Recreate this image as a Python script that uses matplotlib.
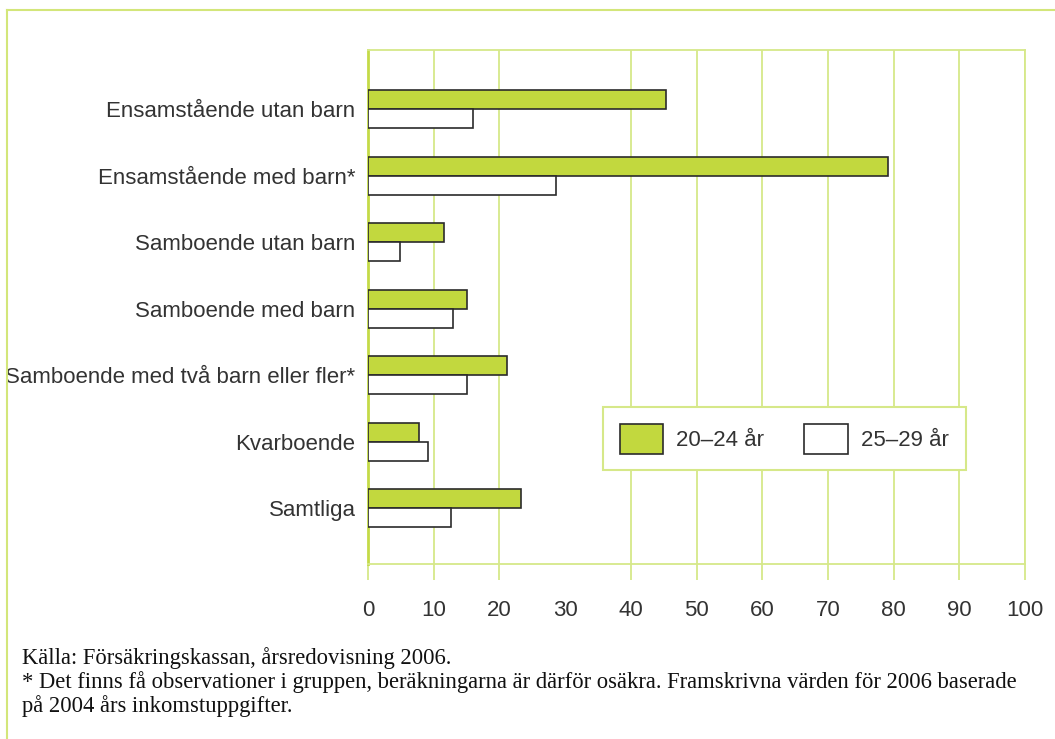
import matplotlib
matplotlib.use('Agg')
import matplotlib.pyplot as plt
from matplotlib.patches import Patch
from matplotlib.lines import Line2D
import numpy as np

# ---- data ----
categories = [
    'Ensamstående utan barn',
    'Ensamstående med barn*',
    'Samboende utan barn',
    'Samboende med barn',
    'Samboende med två barn eller fler*',
    'Kvarboende',
    'Samtliga',
]
values_20_24 = [45.3, 79.1, 11.5, 15.1, 21.2, 7.7, 23.3]
values_25_29 = [16.0, 28.6, 4.9, 13.0, 15.1, 9.1, 12.7]
series_labels = ['20–24 år', '25–29 år']
xticks = [0, 10, 20, 30, 40, 50, 60, 70, 80, 90, 100]
footer_lines = [
    'Källa: Försäkringskassan, årsredovisning 2006.',
    '* Det finns få observationer i gruppen, beräkningarna är därför osäkra. Framskrivna värden för 2006 baserade',
    'på 2004 års inkomstuppgifter.',
]

# ---- style ----
GREEN = '#c2d83e'
EDGE = '#2b2b2b'
GRID = '#d6e889'
SPINE_L = '#c4da48'
BORDER = '#d3e67a'
TEXT = '#333333'
SANS = ['Liberation Sans', 'DejaVu Sans']
SERIF = ['Liberation Serif', 'DejaVu Serif']
FS = 16

plt.rcParams['font.family'] = SANS

W, H = 1055, 739
fig = plt.figure(figsize=(W / 100, H / 100), dpi=100)
fig.patch.set_facecolor('white')

ax = fig.add_axes([368 / W, 1 - 564 / H, (1025 - 368) / W, (564 - 50) / H])

y = np.arange(len(categories))
h = 0.286
ax.barh(y - h / 2, values_20_24, height=h, color=GREEN, edgecolor=EDGE,
        linewidth=1.2, zorder=3)
ax.barh(y + h / 2, values_25_29, height=h, color='white', edgecolor=EDGE,
        linewidth=1.2, zorder=3)

ax.set_xlim(0, 100)
ax.set_ylim(6.835, -0.887)
ax.set_yticks(y)
ax.set_yticklabels(categories, fontsize=FS, color=TEXT)
ax.tick_params(axis='y', length=0, pad=9)

ax.set_xticks(xticks)
ax.set_xticklabels([str(t) for t in xticks])
ax.tick_params(axis='x', length=11.5, width=1.3, color=GRID, pad=14.5,
               labelsize=FS, labelcolor=TEXT, direction='out')
ax.grid(axis='x', color=GRID, linewidth=1.3, zorder=0)
ax.set_axisbelow(True)

# reference has no gridline / tick mark at 30
t30 = ax.xaxis.get_major_ticks()[xticks.index(30)]
t30.gridline.set_visible(False)
t30.tick1line.set_visible(False)

for s in ['top', 'right', 'bottom']:
    ax.spines[s].set_color(GRID)
    ax.spines[s].set_linewidth(1.3)
ax.spines['left'].set_color(SPINE_L)
ax.spines['left'].set_linewidth(2.0)

# legend
handles = [Patch(facecolor=GREEN, edgecolor=EDGE, linewidth=1.2),
           Patch(facecolor='white', edgecolor=EDGE, linewidth=1.2)]
leg = fig.legend(handles=handles, labels=series_labels, ncol=2,
                 loc='upper left', bbox_to_anchor=(603 / W, 1 - 407 / H),
                 frameon=True, fancybox=False, edgecolor=GRID, framealpha=1,
                 fontsize=FS, handlelength=1.95, handleheight=1.7,
                 handletextpad=0.6, columnspacing=1.8, borderpad=0.75,
                 borderaxespad=0)
leg.get_frame().set_linewidth(1.5)
for t in leg.get_texts():
    t.set_color(TEXT)

# outer frame (top and left)
fig.add_artist(Line2D([7 / W, 7 / W], [0, 1 - 10 / H], transform=fig.transFigure,
                      color=BORDER, linewidth=1.5))
fig.add_artist(Line2D([7 / W, 1], [1 - 10 / H, 1 - 10 / H], transform=fig.transFigure,
                      color=BORDER, linewidth=1.5))

# footer
for i, line in enumerate(footer_lines):
    fig.text(22 / W, 1 - (658 + 24 * i) / H, line, family=SERIF, fontsize=16.3,
             color='#111111', va='center', ha='left')

fig.savefig('out.png', dpi=100, facecolor='white')
